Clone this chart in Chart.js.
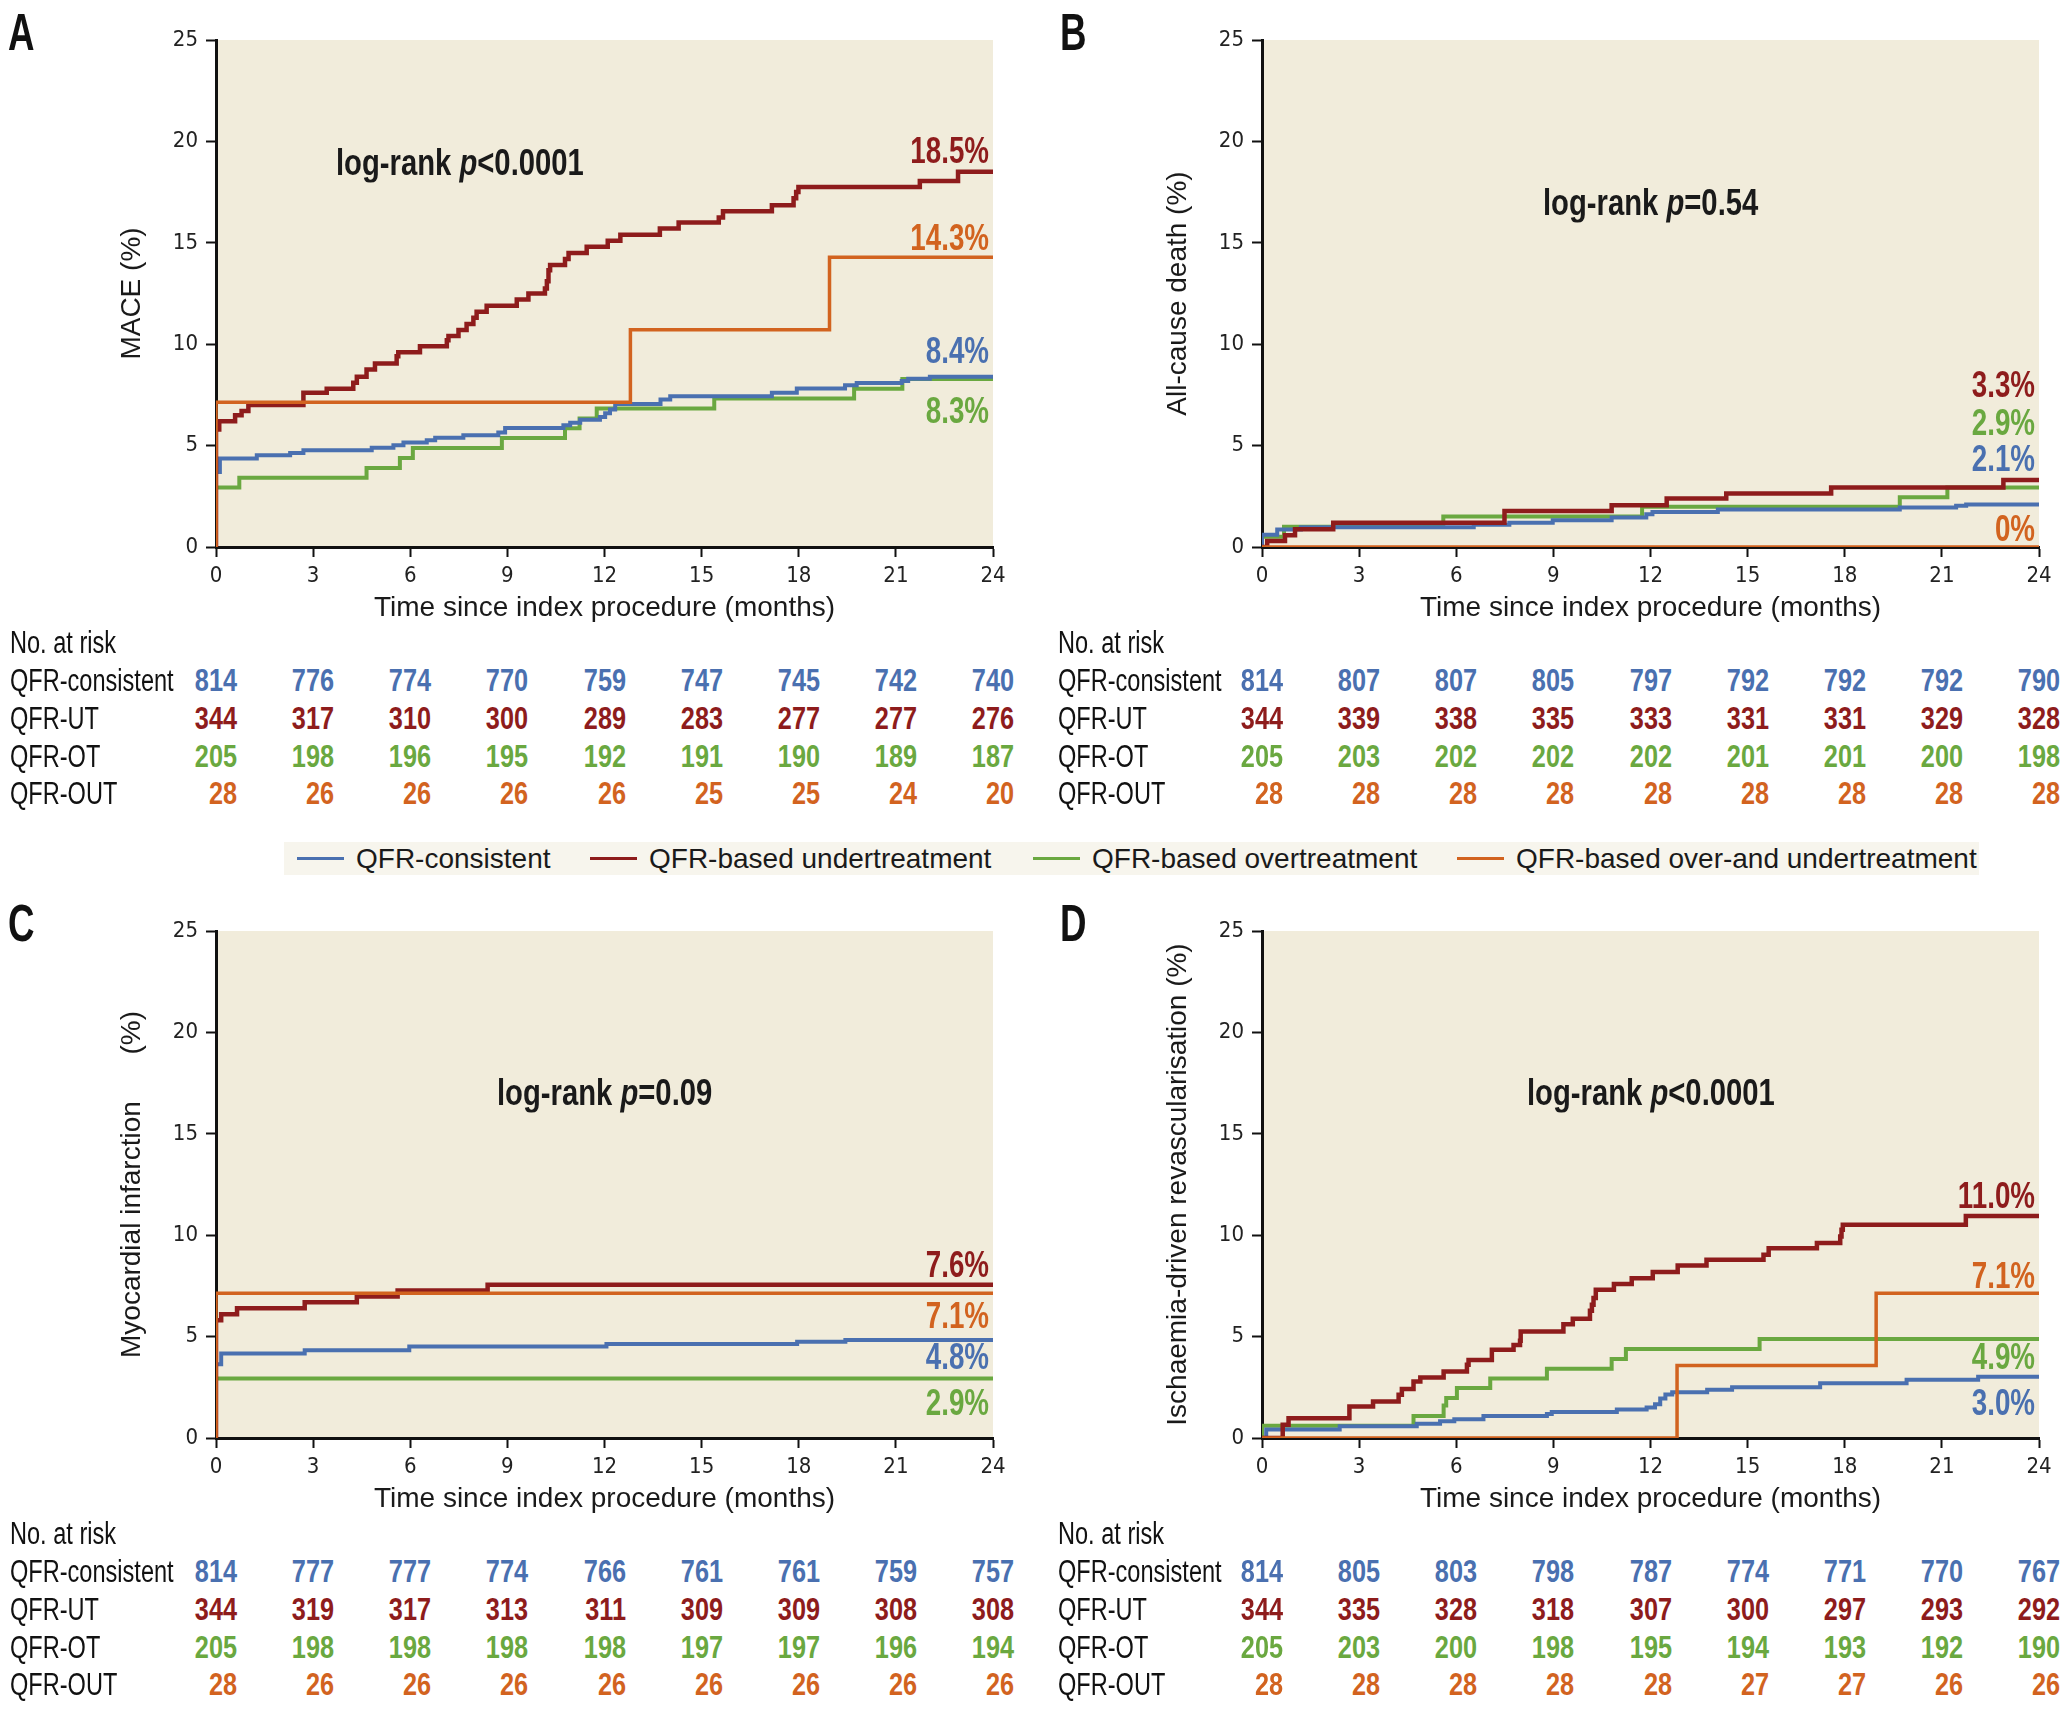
<!DOCTYPE html>
<html><head><meta charset="utf-8">
<script src="https://cdn.jsdelivr.net/npm/chart.js@4.4.1/dist/chart.umd.min.js"></script>
<style>
html,body{margin:0;padding:0;background:#fff;overflow:hidden;width:2068px;height:1714px;}
#page{position:relative;width:2068px;height:1714px;}
canvas{position:absolute;}
.t{position:absolute;white-space:pre;line-height:1;}
</style></head>
<body><div id="page"></div>
<script>
// ---------- colours ----------
const C_CONS = '#4a70b0', C_UT = '#8e1c1c', C_OT = '#6aa840', C_OUT = '#d2631f';
const PLOT_BG = '#f1ecdb';
const NARROW = '"DejaVu Sans Condensed","Liberation Sans Narrow",sans-serif';
const REG = '"Liberation Sans",Arial,sans-serif';

// ---------- common axes ----------
const xTicks = [0, 3, 6, 9, 12, 15, 18, 21, 24];
const riskLabels = ['No. at risk', 'QFR-consistent', 'QFR-UT', 'QFR-OT', 'QFR-OUT'];
const legendLabels = ['QFR-consistent', 'QFR-based undertreatment', 'QFR-based overtreatment', 'QFR-based over-and undertreatment'];

// ---------- Panel A: MACE ----------
const A_cons_t = [0, 0, 0.12, 1.26, 2.29, 2.7, 4.81, 5.48, 5.79, 6.51, 6.77, 7.64, 8.72, 8.93, 10.73, 10.94, 11.25, 11.86, 12.02, 12.17, 12.33, 13.73, 14.03, 17.17, 17.94, 19.43, 19.79, 21.18, 21.38, 22.05, 24];
const A_cons_v = [0, 3.7, 4.36, 4.52, 4.64, 4.77, 4.9, 5.02, 5.15, 5.26, 5.39, 5.51, 5.64, 5.87, 6.0, 6.13, 6.28, 6.41, 6.6, 6.78, 7.05, 7.27, 7.43, 7.6, 7.81, 7.98, 8.09, 8.19, 8.3, 8.4, 8.4];
const A_ut_t = [0, 0, 0.1, 0.59, 0.79, 1.0, 2.7, 3.42, 4.24, 4.35, 4.65, 4.91, 5.58, 5.63, 6.3, 7.13, 7.18, 7.49, 7.74, 7.95, 8.05, 8.36, 9.29, 9.65, 10.16, 10.22, 10.27, 10.32, 10.78, 10.89, 11.45, 12.1, 12.49, 13.71, 14.29, 15.53, 15.66, 17.17, 17.84, 17.92, 17.99, 21.74, 22.92, 24];
const A_ut_v = [0, 5.8, 6.2, 6.5, 6.7, 7.0, 7.6, 7.8, 8.1, 8.4, 8.75, 9.05, 9.4, 9.6, 9.9, 10.2, 10.4, 10.7, 11.0, 11.3, 11.6, 11.9, 12.2, 12.5, 12.75, 13.1, 13.65, 13.9, 14.2, 14.5, 14.8, 15.1, 15.4, 15.7, 16.0, 16.25, 16.55, 16.85, 17.2, 17.5, 17.75, 18.05, 18.5, 18.5];
const A_ot_t = [0, 0, 0.72, 4.65, 5.68, 6.08, 8.83, 10.78, 11.23, 11.76, 15.39, 19.71, 21.2, 24];
const A_ot_v = [0, 2.93, 3.41, 3.9, 4.39, 4.88, 5.37, 5.85, 6.34, 6.83, 7.32, 7.8, 8.29, 8.29];
const A_out_t = [0, 0, 12.8, 18.95, 24];
const A_out_v = [0, 7.14, 10.71, 14.29, 14.29];
const A_risk_cons = [814, 776, 774, 770, 759, 747, 745, 742, 740];
const A_risk_ut = [344, 317, 310, 300, 289, 283, 277, 277, 276];
const A_risk_ot = [205, 198, 196, 195, 192, 191, 190, 189, 187];
const A_risk_out = [28, 26, 26, 26, 26, 25, 25, 24, 20];
const A_end = ['18.5%', '14.3%', '8.4%', '8.3%'];

// ---------- Panel B: All-cause death ----------
const B_cons_t = [0, 0, 0.47, 1.2, 6.54, 7.64, 8.98, 10.8, 11.87, 12.06, 14.08, 19.7, 21.44, 21.75, 24];
const B_cons_v = [0, 0.6, 0.86, 0.98, 1.1, 1.2, 1.32, 1.45, 1.62, 1.72, 1.85, 1.95, 2.03, 2.1, 2.1];
const B_ut_t = [0, 0.16, 0.71, 1.02, 2.2, 7.49, 10.8, 12.5, 14.34, 17.58, 22.9, 24];
const B_ut_v = [0, 0.29, 0.58, 0.87, 1.2, 1.78, 2.06, 2.39, 2.64, 2.94, 3.3, 3.3];
const B_ot_t = [0, 0, 0.68, 5.6, 11.74, 19.7, 21.17, 24];
const B_ot_v = [0, 0.5, 1.0, 1.5, 1.98, 2.45, 2.93, 2.93];
const B_out_t = [0, 24];
const B_out_v = [0, 0];
const B_risk_cons = [814, 807, 807, 805, 797, 792, 792, 792, 790];
const B_risk_ut = [344, 339, 338, 335, 333, 331, 331, 329, 328];
const B_risk_ot = [205, 203, 202, 202, 202, 201, 201, 200, 198];
const B_risk_out = [28, 28, 28, 28, 28, 28, 28, 28, 28];
const B_end = ['3.3%', '2.9%', '2.1%', '0%'];

// ---------- Panel C: Myocardial infarction ----------
const C_cons_t = [0, 0, 0.16, 2.74, 5.97, 12.06, 17.95, 19.44, 24];
const C_cons_v = [0, 3.64, 4.17, 4.33, 4.51, 4.63, 4.74, 4.83, 4.83];
const C_ut_t = [0, 0, 0.16, 0.65, 2.74, 4.35, 5.61, 8.39, 24];
const C_ut_v = [0, 5.81, 6.1, 6.4, 6.69, 6.98, 7.27, 7.56, 7.56];
const C_ot_t = [0, 0, 24];
const C_ot_v = [0, 2.93, 2.93];
const C_out_t = [0, 0, 24];
const C_out_v = [0, 7.14, 7.14];
const C_risk_cons = [814, 777, 777, 774, 766, 761, 761, 759, 757];
const C_risk_ut = [344, 319, 317, 313, 311, 309, 309, 308, 308];
const C_risk_ot = [205, 198, 198, 198, 198, 197, 197, 196, 194];
const C_risk_out = [28, 26, 26, 26, 26, 26, 26, 26, 26];
const C_end = ['7.6%', '7.1%', '4.8%', '2.9%'];

// ---------- Panel D: Ischaemia-driven revascularisation ----------
const D_cons_t = [0, 0.13, 2.4, 4.78, 5.5, 5.94, 6.84, 8.8, 8.95, 10.96, 11.88, 12.14, 12.3, 12.46, 12.67, 13.75, 14.52, 17.24, 19.91, 22.12, 24];
const D_cons_v = [0, 0.42, 0.58, 0.7, 0.82, 0.93, 1.08, 1.18, 1.28, 1.4, 1.5, 1.66, 1.95, 2.15, 2.26, 2.38, 2.5, 2.7, 2.87, 3.02, 3.02];
const D_ut_t = [0, 0.64, 0.82, 2.7, 3.43, 4.22, 4.32, 4.68, 4.89, 5.61, 6.33, 6.38, 7.1, 7.77, 7.97, 7.99, 9.31, 9.6, 10.13, 10.19, 10.24, 10.31, 10.87, 11.42, 12.07, 12.84, 13.73, 15.49, 15.65, 17.14, 17.86, 17.9, 17.94, 21.74, 24];
const D_ut_v = [0, 0.65, 0.98, 1.55, 1.8, 2.13, 2.42, 2.79, 2.98, 3.28, 3.61, 3.85, 4.35, 4.59, 4.79, 5.25, 5.61, 5.88, 6.27, 6.57, 6.9, 7.31, 7.59, 7.88, 8.18, 8.51, 8.79, 9.04, 9.36, 9.61, 9.94, 10.27, 10.52, 10.95, 10.95];
const D_ot_t = [0, 0, 4.68, 5.61, 5.69, 6.02, 7.05, 8.8, 10.8, 11.24, 15.37, 24];
const D_ot_v = [0, 0.6, 1.08, 1.6, 1.97, 2.46, 2.93, 3.41, 3.9, 4.39, 4.88, 4.88];
const D_out_t = [0, 12.82, 18.97, 24];
const D_out_v = [0, 3.57, 7.14, 7.14];
const D_risk_cons = [814, 805, 803, 798, 787, 774, 771, 770, 767];
const D_risk_ut = [344, 335, 328, 318, 307, 300, 297, 293, 292];
const D_risk_ot = [205, 203, 200, 198, 195, 194, 193, 192, 190];
const D_risk_out = [28, 28, 28, 28, 28, 27, 27, 26, 26];
const D_end = ['11.0%', '7.1%', '4.9%', '3.0%'];

// ---------- layout (annotation placement in data units) ----------
const PANELS = [
  {letter:'A', left:0, top:0, yTitle:'MACE (%)',
   s:[[A_out_t,A_out_v],[A_ut_t,A_ut_v],[A_cons_t,A_cons_v],[A_ot_t,A_ot_v]],
   risk:[A_risk_cons,A_risk_ut,A_risk_ot,A_risk_out],
   end:A_end, endColors:[C_UT,C_OUT,C_CONS,C_OT], endY:[19.6,15.3,9.7,6.75],
   lr:['log-rank ','p','<0.0001'], lrX:3.7, lrY:19.0},
  {letter:'B', left:1046, top:0, yTitle:'All-cause death (%)',
   s:[[B_out_t,B_out_v],[B_ut_t,B_ut_v],[B_cons_t,B_cons_v],[B_ot_t,B_ot_v]],
   risk:[B_risk_cons,B_risk_ut,B_risk_ot,B_risk_out],
   end:B_end, endColors:[C_UT,C_OT,C_CONS,C_OUT], endY:[8.04,6.16,4.39,0.94],
   lr:['log-rank ','p','=0.54'], lrX:8.68, lrY:17.0},
  {letter:'C', left:0, top:891, yTitle:'Myocardial infarction      (%)',
   s:[[C_out_t,C_out_v],[C_ut_t,C_ut_v],[C_cons_t,C_cons_v],[C_ot_t,C_ot_v]],
   risk:[C_risk_cons,C_risk_ut,C_risk_ot,C_risk_out],
   end:C_end, endColors:[C_UT,C_OUT,C_CONS,C_OT], endY:[8.58,6.07,4.04,1.78],
   lr:['log-rank ','p','=0.09'], lrX:8.68, lrY:17.06},
  {letter:'D', left:1046, top:891, yTitle:'Ischaemia-driven revascularisation (%)',
   s:[[D_out_t,D_out_v],[D_ut_t,D_ut_v],[D_cons_t,D_cons_v],[D_ot_t,D_ot_v]],
   risk:[D_risk_cons,D_risk_ut,D_risk_ot,D_risk_out],
   end:D_end, endColors:[C_UT,C_OUT,C_OT,C_CONS], endY:[11.98,8.04,4.04,1.78],
   lr:['log-rank ','p','<0.0001'], lrX:8.19, lrY:17.06}
];
const SERIES_COLORS = [C_OUT, C_UT, C_CONS, C_OT];
const SERIES_WIDTH = [3.5, 4.5, 4, 4];
const RISK_COLORS = [C_CONS, C_UT, C_OT, C_OUT];

const page = document.getElementById('page');
// condensed text: Liberation Sans squeezed horizontally (k), anchored left or right
function txt(s, x, y, css, k, right) {
  const d = document.createElement('div');
  d.className = 't';
  if (typeof s === 'string') d.textContent = s; else s.forEach(n => d.appendChild(n));
  d.style.left = x + 'px';
  d.style.top = y + 'px';
  Object.assign(d.style, css);
  const sc = k ? ' scaleX(' + k + ')' : '';
  if (right) {
    d.style.transformOrigin = '100% 50%';
    d.style.transform = 'translate(-100%,-50%)' + sc;
  } else {
    d.style.transformOrigin = '0 50%';
    d.style.transform = 'translateY(-50%)' + sc;
  }
  page.appendChild(d);
  return d;
}

const bgPlugin = {
  id: 'plotbg',
  beforeDraw(chart) {
    const a = chart.chartArea, ctx = chart.ctx;
    ctx.save();
    ctx.fillStyle = PLOT_BG;
    ctx.fillRect(a.left, a.top, a.right - a.left, a.bottom - a.top);
    ctx.restore();
  }
};

const CW = 1020, CH = 627;
PANELS.forEach(p => {
  const cv = document.createElement('canvas');
  cv.width = CW; cv.height = CH;
  cv.style.left = p.left + 'px'; cv.style.top = p.top + 'px';
  cv.style.width = CW + 'px'; cv.style.height = CH + 'px';
  page.appendChild(cv);
  const datasets = p.s.map((sv, i) => ({
    data: sv[0].map((t, k) => ({x: t, y: sv[1][k]})),
    borderColor: SERIES_COLORS[i],
    borderWidth: SERIES_WIDTH[i],
    stepped: 'before',
    fill: false,
    pointRadius: 0,
    borderCapStyle: 'butt',
    borderJoinStyle: 'miter'
  }));
  const chart = new Chart(cv, {
    type: 'line',
    data: {datasets},
    options: {
      responsive: false, animation: false, devicePixelRatio: 1,
      layout: {padding: {left: 0, right: 27, top: 40, bottom: 0}},
      plugins: {legend: {display: false}, tooltip: {enabled: false}},
      scales: {
        x: {
          type: 'linear', min: 0, max: 24,
          afterBuildTicks(s) { s.ticks = xTicks.map(v => ({value: v})); },
          ticks: {padding: 6, color: '#222', font: {family: NARROW, size: 22}, maxRotation: 0, autoSkip: false},
          grid: {drawOnChartArea: false, drawTicks: true, tickLength: 10, tickWidth: 2, tickColor: '#111'},
          border: {display: true, color: '#111', width: 3},
          title: {display: true, text: 'Time since index procedure (months)', color: '#1a1a1a',
                  font: {family: REG, size: 28}, padding: {top: 0, bottom: 2}},
          afterFit(s) { s.height = 80; }
        },
        y: {
          type: 'linear', min: 0, max: 25,
          ticks: {stepSize: 5, padding: 8, color: '#222', font: {family: NARROW, size: 22}},
          grid: {drawOnChartArea: false, drawTicks: true, tickLength: 10, tickWidth: 2, tickColor: '#111'},
          border: {display: true, color: '#111', width: 3},
          title: {display: true, text: p.yTitle, color: '#1a1a1a',
                  font: {family: REG, size: 28}, padding: {top: 115, bottom: 0}},
          afterFit(s) { s.width = 216; }
        }
      }
    },
    plugins: [bgPlugin]
  });
  const xs = chart.scales.x, ys = chart.scales.y;
  const X = v => p.left + xs.getPixelForValue(v);
  const Y = v => p.top + ys.getPixelForValue(v);

  // panel letter
  txt(p.letter, p.left + (p.left ? 14 : 8), p.top + 32,
      {fontFamily: REG, fontWeight: 'bold', fontSize: '51px', color: '#111'}, 0.72);

  // log-rank annotation
  const it = document.createElement('i'); it.textContent = p.lr[1];
  txt([document.createTextNode(p.lr[0]), it, document.createTextNode(p.lr[2])], X(p.lrX), Y(p.lrY),
      {fontFamily: REG, fontWeight: 'bold', fontSize: '37px', color: '#1a1a1a'}, 0.79);

  // end labels
  p.end.forEach((s, i) => {
    txt(s, X(24) - 4, Y(p.endY[i]),
        {fontFamily: REG, fontWeight: 'bold', fontSize: '37px', color: p.endColors[i]}, 0.75, true);
  });

  // number at risk table
  const base = Y(0);
  const rowY = [95, 133, 171, 209, 246].map(d => base + d);
  const labX = p.left ? p.left + 12 : 10;
  riskLabels.forEach((s, r) => {
    txt(s, labX, rowY[r], {fontFamily: REG, fontSize: '31px', color: '#111'}, 0.76);
  });
  p.risk.forEach((arr, r) => {
    arr.forEach((n, k) => {
      txt(String(n), X(xTicks[k]) + 21, rowY[r + 1],
          {fontFamily: REG, fontWeight: 'bold', fontSize: '32px', color: RISK_COLORS[r]}, 0.79, true);
    });
  });
});

// ---------- legend ----------
const lg = document.createElement('div');
Object.assign(lg.style, {position: 'absolute', left: '284px', top: '842px', width: '1695px', height: '33px', background: '#f7f5ed'});
page.appendChild(lg);
const legLineX = [297, 590, 1033, 1457];
const legColors = [C_CONS, C_UT, C_OT, C_OUT];
legendLabels.forEach((s, i) => {
  const ln = document.createElement('div');
  Object.assign(ln.style, {position: 'absolute', left: legLineX[i] + 'px', top: '857px', width: '47px', height: '3px', background: legColors[i]});
  page.appendChild(ln);
  txt(s, legLineX[i] + 59, 859, {fontFamily: REG, fontSize: '28px', color: '#1a1a1a'});
});
</script>
</body></html>
